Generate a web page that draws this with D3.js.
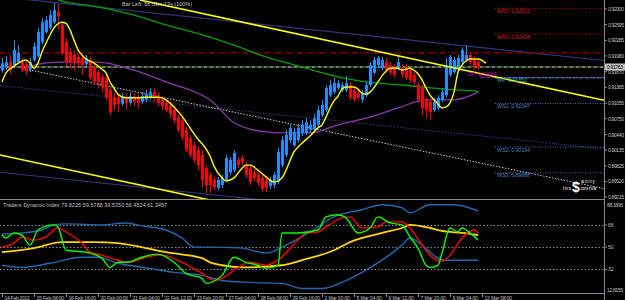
<!DOCTYPE html>
<html><head><meta charset="utf-8">
<script src="https://cdn.jsdelivr.net/npm/d3@7"></script>
<style>body{margin:0;background:#000}svg{display:block}text{font-family:"Liberation Sans",Arial,sans-serif}</style>
</head><body><svg id="c" width="625" height="300"></svg>
<script>
// ---- candles (H4) ----
const opens=[.9170,.9176,.9186,.9180,.9186,.9186,.9182,.9172,.9190,.9198,
.9225,.9245,.9253,.9264,.9284,.9259,.9225,.9206,.9200,.9196,
.9194,.9182,.9190,.9174,.9166,.9157,.9155,.9131,.9117,.9116,
.9104,.9117,.9106,.9119,.9116,.9108,.9112,.9117,.9127,.9121,
.9112,.9106,.9100,.9092,.9078,.9072,.9053,.9037,.9023,.9014,
.9004,.8978,.8965,.8955,.8939,.8945,.8955,.8970,.8974,.8994,
.8998,.8984,.8978,.8970,.8965,.8959,.8955,.8943,.8945,.8951,
.8984,.9004,.9033,.9023,.9033,.9047,.9047,.9053,.9053,.9063,
.9082,.9092,.9121,.9127,.9135,.9131,.9131,.9141,.9131,.9125,
.9112,.9121,.9141,.9165,.9180,.9174,.9186,.9180,.9176,.9174,
.9176,.9176,.9170,.9161,.9141,.9135,.9112,.9108,.9092,.9096,
.9112,.9121,.9161,.9166,.9174,.9186,.9190,.9200,.9190,.9186];
const closes=[.9184,.9186,.9170,.9210,.9204,.9170,.9168,.9186,.9217,.9245,
.9264,.9268,.9278,.9288,.9276,.9204,.9186,.9186,.9186,.9184,
.9180,.9194,.9155,.9147,.9147,.9137,.9117,.9088,.9102,.9104,
.9117,.9106,.9119,.9108,.9106,.9119,.9123,.9127,.9116,.9106,
.9100,.9092,.9084,.9072,.9053,.9039,.9014,.9004,.8994,.8984,
.8955,.8945,.8945,.8941,.8955,.8959,.8998,.8994,.9008,.8984,
.8990,.8965,.8951,.8959,.8949,.8937,.8939,.8955,.8965,.9010,
.9033,.9043,.9057,.9049,.9057,.9063,.9068,.9063,.9076,.9092,
.9102,.9135,.9141,.9145,.9145,.9141,.9145,.9117,.9112,.9116,
.9125,.9141,.9180,.9190,.9194,.9190,.9170,.9166,.9161,.9186,
.9161,.9155,.9151,.9147,.9112,.9096,.9092,.9088,.9108,.9116,
.9127,.9180,.9196,.9190,.9194,.9210,.9200,.9186,.9176,.9176];
const highs=[.9194,.9198,.9200,.9229,.9219,.9194,.9190,.9194,.9225,.9253,
.9272,.9276,.9288,.9302,.9300,.9264,.9233,.9214,.9210,.9202,
.9200,.9200,.9196,.9180,.9170,.9163,.9161,.9137,.9125,.9123,
.9125,.9123,.9127,.9125,.9121,.9127,.9131,.9135,.9135,.9127,
.9119,.9112,.9108,.9100,.9084,.9080,.9059,.9043,.9029,.9020,
.9014,.8984,.8970,.8961,.8961,.8965,.9004,.9000,.9014,.9000,
.9004,.8990,.8984,.8976,.8970,.8965,.8961,.8961,.8970,.9018,
.9041,.9053,.9063,.9057,.9065,.9072,.9076,.9072,.9084,.9100,
.9112,.9141,.9151,.9155,.9151,.9147,.9159,.9147,.9137,.9131,
.9131,.9147,.9186,.9196,.9198,.9196,.9194,.9186,.9182,.9200,
.9182,.9182,.9176,.9166,.9147,.9141,.9117,.9112,.9116,.9121,
.9135,.9194,.9200,.9196,.9200,.9215,.9219,.9206,.9196,.9190];
const lows=[.9165,.9170,.9163,.9176,.9182,.9166,.9161,.9166,.9186,.9194,
.9221,.9241,.9249,.9261,.9249,.9200,.9178,.9174,.9170,.9174,
.9161,.9176,.9151,.9141,.9135,.9127,.9112,.9082,.9092,.9088,
.9100,.9092,.9102,.9100,.9096,.9104,.9108,.9112,.9108,.9100,
.9092,.9088,.9076,.9065,.9049,.9033,.9010,.8998,.8988,.8974,
.8941,.8929,.8929,.8935,.8935,.8939,.8951,.8965,.8970,.8978,
.8984,.8959,.8945,.8953,.8943,.8931,.8931,.8937,.8939,.8947,
.8980,.9000,.9027,.9020,.9029,.9041,.9043,.9047,.9049,.9059,
.9078,.9088,.9117,.9123,.9131,.9127,.9127,.9112,.9108,.9110,
.9106,.9117,.9137,.9161,.9174,.9170,.9165,.9161,.9155,.9170,
.9155,.9151,.9145,.9141,.9106,.9082,.9076,.9072,.9088,.9092,
.9108,.9117,.9157,.9163,.9170,.9182,.9186,.9180,.9172,.9170];

// ---- overlays: [bar index, price] ----
const fastMA=[[0,.9147],[1,.9165],[3,.9178],[5,.9188],[6,.9190],[7,.9184],[8,.9174],[9,.9184],[10,.9206],[11,.9223],
[12,.9239],[13,.9253],[14,.9261],[15,.9264],[16,.9262],[17,.9249],[18,.9229],[19,.9210],[20,.9200],[21,.9192],
[22,.9188],[23,.9184],[25,.9172],[26,.9165],[27,.9147],[28,.9135],[29,.9123],[31,.9116],[34,.9116],[36,.9117],
[39,.9117],[41,.9112],[43,.9098],[45,.9080],[47,.9057],[49,.9035],[51,.9016],[52,.9002],[53,.8982],[55,.8959],
[56,.8953],[58,.8959],[60,.8978],[61,.8984],[62,.8984],[64,.8974],[66,.8961],[68,.8951],[70,.8959],[71,.8974],
[73,.9010],[75,.9027],[77,.9041],[79,.9057],[80,.9063],[81,.9078],[82,.9096],[83,.9110],[84,.9119],[85,.9133],
[86,.9137],[88,.9137],[89,.9133],[90,.9125],[91,.9123],[92,.9127],[94,.9147],[95,.9159],[96,.9168],[97,.9174],
[99,.9174],[100,.9170],[102,.9174],[103,.9170],[104,.9163],[105,.9151],[106,.9135],[107,.9121],[108,.9112],[109,.9104],
[110,.9096],[111,.9098],[112,.9106],[113,.9127],[114,.9166],[115,.9180],[116,.9188],[117,.9192],[119,.9192],[121,.9184]];
const slowMA=[[12,.9314],[14,.9308],[24,.9294],[33,.9278],[41,.9259],[52,.9235],[58,.9219],[66,.9196],[75,.9176],[83,.9159],[91,.9147],[100,.9141],[108,.9135],[119,.9129]];
const midMA=[[5,.9170],[8,.9180],[14,.9186],[24,.9186],[33,.9170],[41,.9147],[50,.9121],[52,.9112],[58,.9067],[66,.9049],[69,.9047],[77,.9047],[84,.9063],[91,.9076],[99,.9096],[106,.9112],[113,.9112],[119,.9127]];
const yellowUpper=[[34.5,.93076],[150.5,.9111]];
const yellowLower=[[-0.5,.9004],[60,.8902]];
const navyUpper=[[-0.5,.9314],[150.5,.9189]];
const navyLower=[[-0.5,.8970],[67,.8914]];
const navyMid=[[-0.5,.9140],[150.5,.9016]];
const whiteTrend=[[6,.9172],[150.5,.8938]];
const prevLevel=0.9204, bidPrice=0.91763;
const pivotNames=["WR2","WR1","WP","WS1","WS2","WS3"];
const pivotValues=[0.92912,0.92408,0.91550,0.91047,0.90194,0.89688];
const dpValue=0.91560;
const priceTicks=["0.92900","0.92595","0.92285","0.91980","0.91670","0.91365","0.91055","0.90750","0.90440","0.90135","0.89825","0.89520","0.89215"];

// ---- Traders Dynamic Index: [bar index, value] ----
const tdiUpper=[[0,60.6],[5,61.5],[10,63.9],[13,68],[16,68.8],[25,68],[31,69.6],[35,67.2],[41,63.9],[45,57.4],[48,50],[52,50],[60,49.2],[66,45.1],[71,51.6],[77,62.3],[83,74.5],[90,80.3],[95,84.4],[100,81.9],[102,77.8],[107,84.4],[113,84.4],[119,79.5]];
const tdiLower=[[0,35.3],[5,33.6],[12,36.9],[20,41.8],[24,41.8],[29,36.9],[37,32.8],[43,29.5],[50,27.1],[55,23],[62,21.4],[70,20.6],[75,16.5],[80,16.5],[85,21.4],[90,29.5],[95,39.4],[100,51.6],[102,57.4],[105,51.6],[109,41],[111,39.4],[119,39.4]];
const tdiMid=[[0,45.9],[8,49.2],[15,54.1],[23,54.1],[29,53.3],[36,49.2],[41,45.9],[50,41],[52,37.7],[55,35.3],[60,33.6],[70,35.3],[75,39.4],[83,47.5],[87,54.1],[95,61.5],[100,65.5],[102,68],[107,65.5],[110,63.1],[115,61.5],[119,59.8]];
const tdiSignal=[[0,50],[3,53.3],[5,58.2],[8,55.7],[11,58.2],[14,65.5],[16,62.3],[20,53.3],[22,45.9],[25,43.5],[29,39.4],[32,37.7],[35,41],[40,43.5],[45,37.7],[50,28.7],[53,23],[55,24.6],[58,31.2],[62,37.7],[66,35.3],[69,39.4],[74,55.7],[76,61.5],[79,62.3],[81,66.4],[85,73.7],[87,74.5],[90,65.5],[94,66.4],[96,70.5],[100,70.5],[102,65.5],[105,51.6],[107,43.5],[110,38.6],[112,43.5],[115,57.4],[118,63.9],[119,61.5]];
const tdiRsi=[[0,59.8],[1,57.4],[3,61.5],[5,59.8],[7,51.6],[9,63.9],[13,68],[14,66.4],[16,47.5],[21,45.9],[25,41],[27,33.6],[29,37.7],[31,37.7],[35,41.8],[39,44.3],[43,37.7],[46,28.7],[50,24.6],[51,20.6],[55,27.1],[58,41.8],[61,37.7],[64,35.3],[66,32.8],[69,35.3],[70,61.5],[74,61.5],[79,63.9],[81,74.5],[84,76.2],[86,73.7],[89,61.5],[92,65.5],[94,74.5],[97,69.6],[100,68],[102,58.2],[104,49.2],[106,35.3],[107,33.6],[109,35.3],[110,45.1],[112,65.5],[114,62.3],[115,65.5],[117,61.5],[119,55.7]];
const tdiLevels=[68,50,32];
const tdiRange=[12.8155,88.1895];
const tdiHeader="Traders Dynamic Index 79.8225 59.6788 39.5350 56.4524 61.3457";

// ---- time axis ----
const timeLabelIdx=[0,8,16,24,32,40,48,56,64,72,80,88,96,104,112,120];
const timeLabels=["14 Feb 2012","15 Feb 08:00","16 Feb 16:00","20 Feb 00:00","21 Feb 04:00","22 Feb 12:00","23 Feb 20:00","27 Feb 04:00","28 Feb 08:00","29 Feb 16:00","2 Mar 00:00","5 Mar 04:00","6 Mar 12:00","7 Mar 20:00","9 Mar 04:00","12 Mar 08:00"];

// ================= drawing =================
const svg=d3.select("#c");
const W=625,R=604,T1=0,B1=199,T2=200,B2=293;
svg.append("rect").attr("width",W).attr("height",300).attr("fill","#000");
const defs=svg.append("defs");
defs.append("clipPath").attr("id","cu").append("rect").attr("x",0).attr("y",T1).attr("width",R).attr("height",B1-T1);
defs.append("clipPath").attr("id","cl").append("rect").attr("x",0).attr("y",T2).attr("width",R).attr("height",B2-T2);

const x=d3.scaleLinear().domain([0,119]).range([2,478]);
const y=d3.scaleLinear().domain([0.89215,0.92900]).range([197,9]);
const y2=d3.scaleLinear().domain(tdiRange).range([B2,T2]);
const fs=5;
const tw=(s,k)=>s.length*(k||2.3);

const up=svg.append("g").attr("clip-path","url(#cu)");
const line=d3.line().x(d=>x(d[0])).y(d=>y(d[1]));
const curve=d3.line().x(d=>x(d[0])).y(d=>y(d[1])).curve(d3.curveMonotoneX);

up.append("path").attr("d",line(navyUpper)).attr("stroke","#34347a").attr("stroke-width",1.2).attr("fill","none");
up.append("path").attr("d",line(navyLower)).attr("stroke","#34347a").attr("stroke-width",1.2).attr("fill","none");
up.append("path").attr("d",line(navyMid)).attr("stroke","#3c3c86").attr("stroke-width",1).attr("stroke-dasharray","1.5,1.5").attr("fill","none");
up.append("path").attr("d",line(whiteTrend)).attr("stroke","#c8c8c8").attr("stroke-width",1).attr("stroke-dasharray","1.5,1.5").attr("fill","none");

up.append("line").attr("x1",0).attr("x2",R).attr("y1",y(prevLevel)).attr("y2",y(prevLevel)).attr("stroke","#c00000").attr("stroke-dasharray","6,2,1,2");
up.append("line").attr("x1",0).attr("x2",R).attr("y1",y(bidPrice)).attr("y2",y(bidPrice)).attr("stroke","#4f8f4f");
up.append("line").attr("x1",0).attr("x2",R).attr("y1",y(bidPrice)).attr("y2",y(bidPrice)).attr("stroke","#b0b0b0").attr("stroke-dasharray","3,3");

const pivColor={WR2:"#b01010",WR1:"#b01010",WP:"#00c0c0",WS1:"#3a74b0",WS2:"#3a74b0",WS3:"#3a74b0"};
const pivText={WR2:"#d02020",WR1:"#d02020",WP:"#20a0b0",WS1:"#4a80b8",WS2:"#4a80b8",WS3:"#4a80b8"};
up.append("line").attr("x1",480).attr("x2",R).attr("y1",y(dpValue)).attr("y2",y(dpValue)).attr("stroke","#c000c0").attr("stroke-dasharray","4,2");
pivotNames.forEach((n,k)=>{
  const v=pivotValues[k];
  up.append("line").attr("x1",495).attr("x2",R).attr("y1",y(v)).attr("y2",y(v))
    .attr("stroke",pivColor[n]).attr("stroke-dasharray",n==="WP"?"4,2":"1,1.5");
});

up.append("path").attr("d",curve(slowMA)).attr("stroke","#00a000").attr("stroke-width",1.3).attr("fill","none");
up.append("path").attr("d",curve(midMA)).attr("stroke","#8a3aa8").attr("stroke-width",1.3).attr("fill","none");

const cg=up.append("g");
d3.range(opens.length).forEach(i=>{
  const o=opens[i],c=closes[i],bull=c>=o,col=bull?"#1e90ff":"#ff0000";
  const cx=x(i)+0.5;
  cg.append("line").attr("x1",cx).attr("x2",cx).attr("y1",y(highs[i])).attr("y2",y(lows[i])).attr("stroke",col).attr("stroke-width",1);
  const top=y(Math.max(o,c)),bot=y(Math.min(o,c));
  cg.append("rect").attr("x",x(i)-1).attr("y",top).attr("width",3).attr("height",Math.max(1,bot-top)).attr("fill",col);
});

up.append("path").attr("d",line(yellowUpper)).attr("stroke","#ffff00").attr("stroke-width",1.6).attr("fill","none");
up.append("path").attr("d",line(yellowLower)).attr("stroke","#ffff00").attr("stroke-width",1.6).attr("fill","none");
up.append("path").attr("d",curve(fastMA)).attr("stroke","#ffff00").attr("stroke-width",1.4).attr("fill","none");

const dpT="DP: "+dpValue.toFixed(5);
up.append("text").attr("x",468).attr("y",y(dpValue)-1).attr("font-size",fs).attr("fill","#d000d0").attr("textLength",tw(dpT,2.6)).text(dpT);
pivotNames.forEach((n,k)=>{
  const t=n+": "+pivotValues[k].toFixed(5);
  up.append("text").attr("x",497).attr("y",y(pivotValues[k])+4.5).attr("font-size",5.4).attr("fill",pivText[n]).attr("textLength",tw(t,2.75)).text(t);
});
const bl="Bar Left: 5h 59m 13s (100%)";
up.append("text").attr("x",122).attr("y",5.5).attr("font-size",5.4).attr("fill","#c8c8c8").attr("textLength",70).text(bl);

const wm=up.append("g").attr("fill","#ffffff");
wm.append("text").attr("x",572).attr("y",192).attr("font-size",14).attr("font-weight","bold").text("$");
wm.append("text").attr("x",581).attr("y",183).attr("font-size",5).attr("textLength",14).text("anity");
wm.append("text").attr("x",581).attr("y",190).attr("font-size",5).attr("textLength",15).text("omnia");
wm.append("text").attr("x",563).attr("y",190).attr("font-size",5).attr("textLength",8).text("Ins");

const lo=svg.append("g").attr("clip-path","url(#cl)");
const l2=d3.line().x(d=>x(d[0])).y(d=>y2(d[1])).curve(d3.curveMonotoneX);
tdiLevels.forEach(v=>{
  lo.append("line").attr("x1",0).attr("x2",R).attr("y1",Math.round(y2(v))+0.5).attr("y2",Math.round(y2(v))+0.5).attr("stroke","#8a8a8a").attr("stroke-dasharray","1.5,2");
});
lo.append("path").attr("d",l2(tdiUpper)).attr("stroke","#2468b0").attr("stroke-width",1.4).attr("fill","none");
lo.append("path").attr("d",l2(tdiLower)).attr("stroke","#2468b0").attr("stroke-width",1.4).attr("fill","none");
lo.append("path").attr("d",l2(tdiMid)).attr("stroke","#ffd700").attr("stroke-width",1.8).attr("fill","none");
lo.append("path").attr("d",l2(tdiSignal)).attr("stroke","#ff0000").attr("stroke-width",1.4).attr("fill","none");
lo.append("path").attr("d",l2(tdiRsi)).attr("stroke","#00ff00").attr("stroke-width",1.4).attr("fill","none");
svg.append("text").attr("x",3).attr("y",207).attr("font-size",5.2).attr("fill","#c8c8c8").attr("textLength",164).text(tdiHeader);

svg.append("line").attr("x1",R+0.5).attr("x2",R+0.5).attr("y1",0).attr("y2",300).attr("stroke","#8a8a8a");
svg.append("line").attr("x1",0).attr("x2",R).attr("y1",B1+0.5).attr("y2",B1+0.5).attr("stroke","#8a8a8a");
svg.append("line").attr("x1",0).attr("x2",R).attr("y1",B2+0.5).attr("y2",B2+0.5).attr("stroke","#8a8a8a");

priceTicks.forEach(t=>{
  const yy=y(+t);
  svg.append("line").attr("x1",R).attr("x2",R+3).attr("y1",yy).attr("y2",yy).attr("stroke","#8a8a8a");
  svg.append("text").attr("x",608).attr("y",yy+2).attr("font-size",fs).attr("fill","#c0c0c0").attr("textLength",16).text(t);
});
svg.append("rect").attr("x",R+1).attr("y",y(bidPrice)-3.5).attr("width",20).attr("height",7).attr("fill","#c0c0c0");
svg.append("text").attr("x",607).attr("y",y(bidPrice)+2).attr("font-size",fs).attr("fill","#000").attr("textLength",16).text(bidPrice.toFixed(5));

tdiLevels.forEach(v=>{
  const yy=y2(v);
  svg.append("line").attr("x1",R).attr("x2",R+3).attr("y1",yy).attr("y2",yy).attr("stroke","#8a8a8a");
  svg.append("text").attr("x",608).attr("y",yy+2).attr("font-size",fs).attr("fill","#c0c0c0").text(v);
});
svg.append("text").attr("x",607).attr("y",y2(tdiRange[1])+7).attr("font-size",fs).attr("fill","#c0c0c0").attr("textLength",16).text(tdiRange[1].toFixed(4));
svg.append("text").attr("x",607).attr("y",y2(tdiRange[0])-1).attr("font-size",fs).attr("fill","#c0c0c0").attr("textLength",16).text(tdiRange[0].toFixed(4));

timeLabelIdx.forEach((b,k)=>{
  const xx=Math.round(x(b))+0.5;
  svg.append("line").attr("x1",xx).attr("x2",xx).attr("y1",B2).attr("y2",B2+4).attr("stroke","#8a8a8a");
  const t=timeLabels[k];
  svg.append("text").attr("x",xx+2).attr("y",299.5).attr("font-size",fs).attr("fill","#c0c0c0").attr("textLength",tw(t)).text(t);
});
</script></body></html>
